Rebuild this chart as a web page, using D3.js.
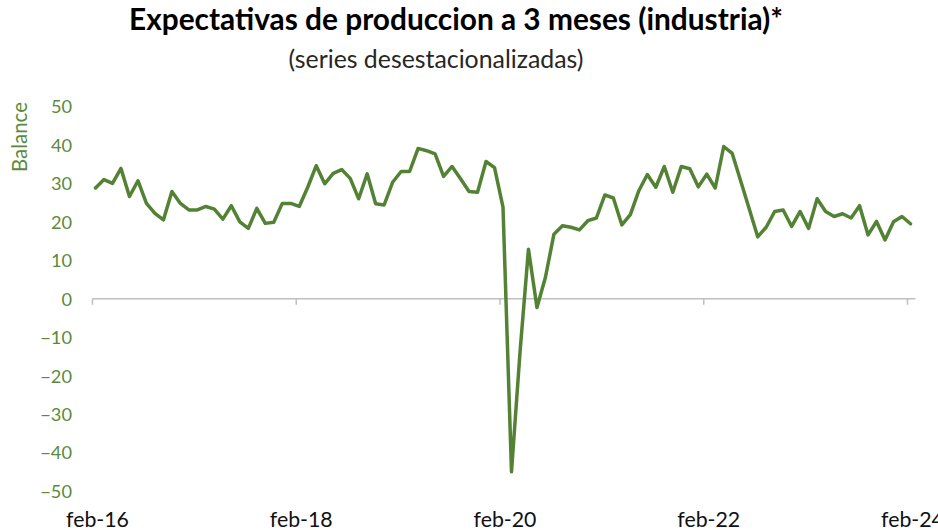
<!DOCTYPE html>
<html>
<head>
<meta charset="utf-8">
<script src="https://cdn.jsdelivr.net/npm/d3@7"></script>
<style>
  html, body { margin: 0; padding: 0; background: #fff; }
  svg { display: block; }
</style>
</head>
<body>
<svg id="chart" width="938" height="530"></svg>
<script>
// ---- Data ----
const titleText = "Expectativas de produccion a 3 meses (industria)*";
const subtitleText = "(series desestacionalizadas)";
const yAxisLabel = "Balance";
// Monthly, feb-16 .. feb-24 (97 months)
const months = d3.range(97).map(i => new Date(2016, 1 + i, 1));
const values = [
  28.8, 31.0, 30.0, 33.9, 26.6, 30.7, 24.8, 22.2, 20.5, 27.9, 24.8, 23.1,
  23.1, 24.0, 23.3, 20.7, 24.2, 20.0, 18.3, 23.5, 19.6, 19.9, 24.8, 24.8,
  24.0, 29.0, 34.6, 29.9, 32.6, 33.6, 31.3, 26.0, 32.5, 24.7, 24.4, 30.3,
  33.1, 33.1, 39.1, 38.5, 37.7, 31.8, 34.4, 31.2, 27.9, 27.7, 35.7, 34.1,
  23.8, -45.0, -14.0, 12.9, -2.3, 5.6, 16.8, 19.0, 18.6, 17.9, 20.3, 21.0,
  27.0, 26.2, 19.2, 21.9, 28.1, 32.3, 29.0, 34.4, 27.7, 34.4, 33.8, 29.1,
  32.4, 28.8, 39.6, 37.8, 30.6, 23.4, 16.1, 18.6, 22.7, 23.1, 18.8, 22.7,
  18.3, 26.0, 22.7, 21.4, 22.1, 21.0, 24.2, 16.6, 20.1, 15.3, 20.0, 21.4,
  19.5
];
const xTickIndex = [0, 24, 48, 72, 96];
const xTickLabels = ["feb-16", "feb-18", "feb-20", "feb-22", "feb-24"];
const yTicks = [50, 40, 30, 20, 10, 0, -10, -20, -30, -40, -50];

// ---- Styles ----
const GREEN = "#548235";
const LABEL_GREEN = "#5b8a3c";
const FONT = "Lato, 'Open Sans', 'Liberation Sans', sans-serif";

const svg = d3.select("#chart");

const x = d3.scaleLinear().domain([0, values.length - 1]).range([95.5, 910.5]);
const y = d3.scaleLinear().domain([-50, 50]).range([491, 106.5]);

// helper to fit font-size to a target text width
function fit(sel, target) {
  const fs = parseFloat(sel.attr("font-size"));
  const w = sel.node().getComputedTextLength();
  const nfs = fs * target / w;
  sel.attr("font-size", nfs);
  return nfs;
}

// Title
const t = svg.append("text")
  .attr("x", 456).attr("y", 30)
  .attr("text-anchor", "middle")
  .attr("font-family", FONT).attr("font-weight", "bold")
  .attr("font-size", 24).attr("fill", "#000")
  .text(titleText);
fit(t, 654);

const st = svg.append("text")
  .attr("x", 436).attr("y", 68)
  .attr("text-anchor", "middle")
  .attr("font-family", FONT)
  .attr("font-size", 20).attr("fill", "#262626")
  .text(subtitleText);
fit(st, 295);

// Y axis label
const yl = svg.append("text")
  .attr("transform", "translate(27,137) rotate(-90)")
  .attr("text-anchor", "middle")
  .attr("font-family", FONT)
  .attr("font-size", 16).attr("fill", LABEL_GREEN)
  .text(yAxisLabel);
fit(yl, 70);

// Y tick labels (no axis line)
const yAxis = d3.axisLeft(y).tickValues(yTicks).tickSize(0).tickPadding(0).tickFormat(d3.format("d"));
const yg = svg.append("g").attr("transform", "translate(72,0)").call(yAxis);
yg.select(".domain").remove();
yg.selectAll("text")
  .attr("font-family", FONT).attr("font-size", 18)
  .attr("fill", LABEL_GREEN).attr("dy", "0.35em");
// fit based on "-50"
{
  const lbl = yg.selectAll("text").filter(d => d === -50);
  const w = lbl.node().getComputedTextLength();
  const nfs = 18 * 31.7 / w;
  yg.selectAll("text").attr("font-size", nfs);
}

// X axis at y=0
const xAxisG = svg.append("g").attr("transform", `translate(0,${y(0)})`);
xAxisG.append("line")
  .attr("x1", x(0) - 3).attr("x2", x(values.length - 1) + 5)
  .attr("y1", 0).attr("y2", 0)
  .attr("stroke", "#bfbfbf").attr("stroke-width", 1.5);
xAxisG.selectAll("line.tick")
  .data(xTickIndex)
  .join("line")
  .attr("class", "tick")
  .attr("x1", d => x(d) - 3).attr("x2", d => x(d) - 3)
  .attr("y1", 0).attr("y2", 6)
  .attr("stroke", "#bfbfbf").attr("stroke-width", 1.5);

const xl = svg.append("g").selectAll("text")
  .data(xTickIndex)
  .join("text")
  .attr("x", d => x(d) + 2)
  .attr("y", 526.5)
  .attr("text-anchor", "middle")
  .attr("font-family", FONT).attr("font-size", 18)
  .attr("fill", "#111")
  .text((d, i) => xTickLabels[i]);
{
  const w = xl.nodes()[0].getComputedTextLength();
  xl.attr("font-size", 18 * 63 / w);
}

// Line
const line = d3.line()
  .x((d, i) => x(i))
  .y(d => y(d));
svg.append("path")
  .datum(values)
  .attr("d", line)
  .attr("fill", "none")
  .attr("stroke", GREEN)
  .attr("stroke-width", 3.5)
  .attr("stroke-linejoin", "round")
  .attr("stroke-linecap", "round");
</script>
</body>
</html>
